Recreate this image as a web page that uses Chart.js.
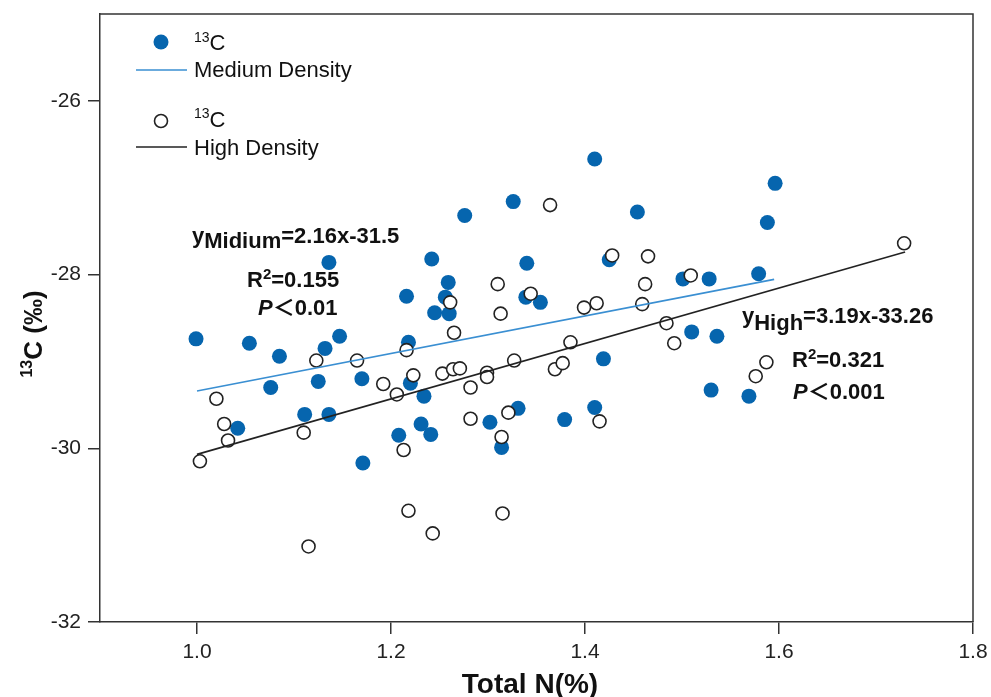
<!DOCTYPE html>
<html>
<head>
<meta charset="utf-8">
<script src="https://cdn.jsdelivr.net/npm/chart.js@4.4.0/dist/chart.umd.min.js"></script>
<style>
html, body { margin: 0; padding: 0; background: #ffffff; }
#wrap { width: 991px; height: 697px; position: relative; }
</style>
</head>
<body>
<div id="wrap"><canvas id="c13Chart"></canvas></div>
<script>
// Medium density (filled blue dots)
const medX = [0.999, 1.054, 1.085, 1.132, 1.147, 1.136, 1.076, 1.125, 1.170, 1.111,
              1.136, 1.042, 1.171, 1.208, 1.231, 1.241, 1.234, 1.220, 1.218, 1.216,
              1.245, 1.260, 1.256, 1.259, 1.242, 1.276, 1.326, 1.340, 1.339, 1.354,
              1.302, 1.314, 1.331, 1.379, 1.410, 1.419, 1.410, 1.425, 1.454, 1.501,
              1.528, 1.510, 1.536, 1.530, 1.569, 1.579, 1.588, 1.596];
const medY = [-28.74, -28.79, -28.94, -28.85, -28.71, -27.86, -29.30, -29.23, -29.20, -29.61,
              -29.61, -29.77, -30.17, -29.85, -29.72, -29.84, -29.40, -29.25, -28.78, -28.25,
              -28.44, -28.45, -28.26, -28.09, -27.82, -27.32, -27.16, -27.87, -28.26, -28.32,
              -29.70, -29.99, -29.54, -29.67, -29.53, -28.97, -26.67, -27.83, -27.28, -28.05,
              -28.05, -28.66, -28.71, -29.33, -29.40, -27.99, -27.40, -26.95];

// High density (open circles)
const highX = [1.003, 1.020, 1.028, 1.032, 1.110, 1.123, 1.165, 1.192, 1.206, 1.213,
               1.216, 1.223, 1.261, 1.265, 1.253, 1.264, 1.271, 1.282, 1.282, 1.299,
               1.299, 1.310, 1.313, 1.344, 1.327, 1.321, 1.314, 1.364, 1.369, 1.377,
               1.385, 1.399, 1.412, 1.415, 1.428, 1.465, 1.462, 1.459, 1.484, 1.492,
               1.509, 1.576, 1.587, 1.729, 1.218, 1.243, 1.315, 1.115];
const highY = [-30.15, -29.43, -29.72, -29.91, -29.82, -28.99, -28.99, -29.26, -29.38, -30.02,
               -28.87, -29.16, -28.32, -28.67, -29.14, -29.09, -29.08, -29.30, -29.66, -29.13,
               -29.18, -28.11, -28.45, -28.22, -28.99, -29.59, -29.87, -27.20, -29.09, -29.02,
               -28.78, -28.38, -28.33, -29.69, -27.78, -27.79, -28.11, -28.34, -28.56, -28.79,
               -28.01, -29.17, -29.01, -27.64, -30.72, -30.98, -30.75, -31.13];

// fitted lines (end points)
const medFitX = [1.0, 1.595];
const medFitY = [-29.34, -28.055];
const highFitX = [1.0, 1.73];
const highFitY = [-30.07, -27.74];

const xTicks = [1.0, 1.2, 1.4, 1.6, 1.8];
const yTicks = [-32, -30, -28, -26];

const BLUE = '#0665ae';
const LIGHT_BLUE = '#3a8fd2';
const DARK = '#222222';
const AXIS = '#333333';
const FONT = '"Liberation Sans", Arial, "Noto Sans CJK SC", sans-serif';

function toPoints(xs, ys) {
    return xs.map((x, i) => ({ x: x, y: ys[i] }));
}

// draws a row of text pieces one after another
function drawRuns(ctx, x, y, runs) {
    runs.forEach(r => {
        ctx.font = r.font;
        ctx.fillText(r.t, x, y + (r.dy || 0));
        x += ctx.measureText(r.t).width;
    });
}

// keep the plot box where the figure has it, no label overflow padding
function fixScale(s, size) {
    if (s.isHorizontal()) s.height = size; else s.width = size;
    s.paddingTop = 0;
    s.paddingBottom = 0;
    s.paddingLeft = 0;
    s.paddingRight = 0;
}

const figureText = {
    id: 'figureText',
    afterDraw(chart) {
        const ctx = chart.ctx;
        const a = chart.chartArea;
        ctx.save();

        // top and right frame
        ctx.strokeStyle = AXIS;
        ctx.lineWidth = 1.5;
        ctx.beginPath();
        ctx.moveTo(a.left, a.top);
        ctx.lineTo(a.right, a.top);
        ctx.lineTo(a.right, a.bottom);
        ctx.stroke();

        ctx.textAlign = 'left';
        ctx.textBaseline = 'alphabetic';

        // legend
        ctx.fillStyle = BLUE;
        ctx.beginPath();
        ctx.arc(161, 42, 7.5, 0, Math.PI * 2);
        ctx.fill();
        ctx.strokeStyle = DARK;
        ctx.lineWidth = 1.6;
        ctx.fillStyle = '#fff';
        ctx.beginPath();
        ctx.arc(161, 121, 6.5, 0, Math.PI * 2);
        ctx.fill();
        ctx.stroke();

        ctx.strokeStyle = LIGHT_BLUE;
        ctx.lineWidth = 1.6;
        ctx.beginPath();
        ctx.moveTo(136, 70);
        ctx.lineTo(187, 70);
        ctx.stroke();
        ctx.strokeStyle = DARK;
        ctx.beginPath();
        ctx.moveTo(136, 147);
        ctx.lineTo(187, 147);
        ctx.stroke();

        ctx.fillStyle = '#111';
        const sup = '14px ' + FONT;
        const reg = '22px ' + FONT;
        drawRuns(ctx, 194, 42, [{ t: '13', font: sup }, { t: 'C', font: reg, dy: 8 }]);
        drawRuns(ctx, 194, 77, [{ t: 'Medium Density', font: reg }]);
        drawRuns(ctx, 194, 118, [{ t: '13', font: sup }, { t: 'C', font: reg, dy: 9 }]);
        drawRuns(ctx, 194, 155, [{ t: 'High Density', font: reg }]);

        // regression annotations
        const b = 'bold 22px ' + FONT;
        const bs = 'bold 15px ' + FONT;
        const bi = 'italic bold 22px ' + FONT;
        drawRuns(ctx, 192, 243, [
            { t: 'y', font: b }, { t: 'Midium', font: b, dy: 5 }, { t: '=2.16x-31.5', font: b }
        ]);
        drawRuns(ctx, 247, 287, [
            { t: 'R', font: b }, { t: '2', font: bs, dy: -8 }, { t: '=0.155', font: b }
        ]);
        drawRuns(ctx, 258, 315, [{ t: 'P', font: bi }, { t: '＜0.01', font: b }]);

        drawRuns(ctx, 742, 323, [
            { t: 'y', font: b }, { t: 'High', font: b, dy: 7 }, { t: '=3.19x-33.26', font: b }
        ]);
        drawRuns(ctx, 792, 367, [
            { t: 'R', font: b }, { t: '2', font: bs, dy: -8 }, { t: '=0.321', font: b }
        ]);
        drawRuns(ctx, 793, 399, [{ t: 'P', font: bi }, { t: '＜0.001', font: b }]);

        // x axis title
        ctx.textAlign = 'center';
        ctx.font = 'bold 28px ' + FONT;
        ctx.fillText('Total N(%)', 530, 693);

        // y axis title (rotated)
        ctx.translate(42, 334);
        ctx.rotate(-Math.PI / 2);
        ctx.textAlign = 'left';
        const ySup = 'bold 16px ' + FONT;
        const yMain = 'bold 26px ' + FONT;
        ctx.font = ySup;
        let w = ctx.measureText('13').width;
        ctx.font = yMain;
        w += ctx.measureText('C (‰)').width;
        drawRuns(ctx, -w / 2, 0, [{ t: '13', font: ySup, dy: -10 }, { t: 'C (‰)', font: yMain }]);

        ctx.restore();
    }
};

new Chart(document.getElementById('c13Chart'), {
    type: 'scatter',
    data: {
        datasets: [
            {
                label: 'Medium Density fit',
                data: toPoints(medFitX, medFitY),
                showLine: true,
                borderColor: LIGHT_BLUE,
                borderWidth: 1.6,
                pointRadius: 0,
                fill: false
            },
            {
                label: 'High Density fit',
                data: toPoints(highFitX, highFitY),
                showLine: true,
                borderColor: DARK,
                borderWidth: 1.6,
                pointRadius: 0,
                fill: false
            },
            {
                label: '13C High Density',
                data: toPoints(highX, highY),
                pointRadius: 6.5,
                pointBackgroundColor: '#ffffff',
                pointBorderColor: DARK,
                pointBorderWidth: 1.6
            },
            {
                label: '13C Medium Density',
                data: toPoints(medX, medY),
                pointRadius: 7.5,
                pointBackgroundColor: BLUE,
                pointBorderWidth: 0
            }
        ]
    },
    options: {
        responsive: true,
        maintainAspectRatio: false,
        animation: false,
        layout: { padding: { top: 14, right: 18, bottom: 0, left: 0 } },
        plugins: {
            legend: { display: false },
            tooltip: { enabled: false }
        },
        scales: {
            x: {
                type: 'linear',
                min: 0.9,
                max: 1.8,
                afterBuildTicks: s => { s.ticks = xTicks.map(v => ({ value: v })); },
                afterFit: s => fixScale(s, 75),
                border: { color: AXIS, width: 1.5 },
                grid: { drawOnChartArea: false, drawTicks: true, tickLength: 12, color: AXIS, lineWidth: 1.5 },
                ticks: {
                    color: '#222',
                    padding: 6,
                    font: { family: FONT, size: 21 },
                    callback: v => v.toFixed(1)
                }
            },
            y: {
                type: 'linear',
                min: -32,
                max: -25,
                afterBuildTicks: s => { s.ticks = yTicks.map(v => ({ value: v })); },
                afterFit: s => fixScale(s, 100),
                border: { color: AXIS, width: 1.5 },
                grid: { drawOnChartArea: false, drawTicks: true, tickLength: 12, color: AXIS, lineWidth: 1.5 },
                ticks: {
                    color: '#222',
                    padding: 7,
                    font: { family: FONT, size: 21 },
                    callback: v => String(v)
                }
            }
        }
    },
    plugins: [figureText]
});
</script>
</body>
</html>
